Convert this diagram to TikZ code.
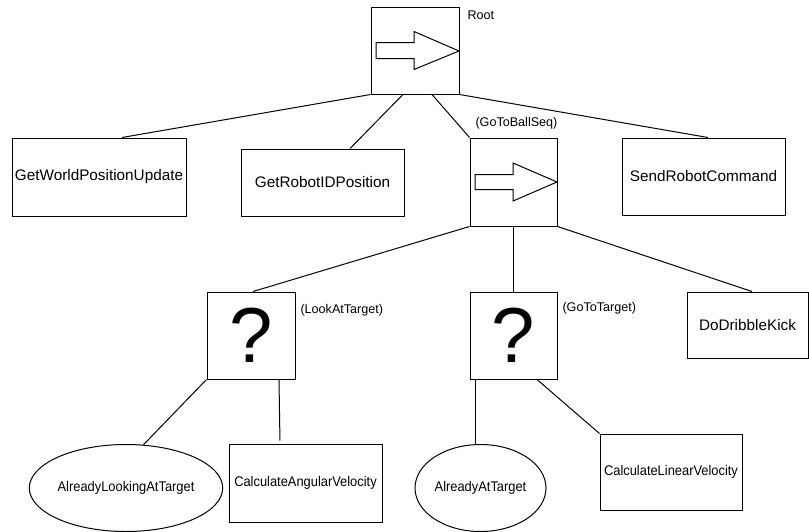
\documentclass[tikz,border=0pt]{standalone}
\usepackage{fontspec}
\setmainfont{Liberation Sans}
\newfontfamily\narrowfont[FakeStretch=0.92]{Liberation Sans}
\usetikzlibrary{shapes.geometric}
\begin{document}
\begin{tikzpicture}[x=1pt,y=-1pt,
  every path/.style={line width=1pt},
  box/.style={draw, rectangle, inner sep=0pt, align=center, font=\fontsize{15.3}{18}\selectfont},
  smallbox/.style={draw, rectangle, inner sep=0pt, align=center, font=\narrowfont\fontsize{14}{16}\selectfont},
  oval/.style={draw, ellipse, inner sep=0pt, font=\narrowfont\fontsize{14}{16}\selectfont},
  sel/.style={draw, rectangle, inner sep=0pt, minimum width=88pt, minimum height=87pt, font=\fontsize{78}{78}\selectfont},
  tag/.style={anchor=west, inner sep=0pt, font=\fontsize{12.6}{15}\selectfont},
  link/.style={draw, line width=1pt}
]
\useasboundingbox (0,0) rectangle (809,531);
% top
\node[box, minimum width=88pt, minimum height=87pt] (root) at (415,50.5) {};
\node[tag] (rootlbl) at (467,15) {Root};
% level 1
\node[box, minimum width=174pt, minimum height=78pt] (gwpu) at (99,177) {GetWorldPositionUpdate};
\node[box, minimum width=163pt, minimum height=67pt] (grip) at (322.5,182.5) {GetRobotIDPosition};
\node[box, minimum width=87pt, minimum height=88pt] (seq) at (513.5,182) {};
\node[tag] (seqlbl) at (475,123) {(GoToBallSeq)};
\node[box, minimum width=163pt, minimum height=77pt] (src) at (703.5,176.5) {SendRobotCommand};
% level 2
\node[sel] (lat) at (251,335.5) {?};
\node[tag] (latlbl) at (300,310) {(LookAtTarget)};
\node[sel, minimum width=87pt] (gtt) at (513.5,335.5) {?};
\node[tag] (gttlbl) at (562,308) {(GoToTarget)};
\node[box, minimum width=121pt, minimum height=66pt] (ddk) at (747.5,325) {DoDribbleKick};
% level 3
\node[oval, minimum width=164pt, minimum height=87pt] (alat) at (126,488) {AlreadyLookingAtTarget};
\node[smallbox, minimum width=153pt, minimum height=78pt] (cav) at (305.5,483) {CalculateAngularVelocity};
\node[oval, minimum width=131pt, minimum height=87pt] (aat) at (480.5,488) {AlreadyAtTarget};
\node[smallbox, minimum width=142pt, minimum height=76pt] (clv) at (671,472) {CalculateLinearVelocity};
% sequence arrows
\begin{scope}[shift={(root.center)}]
  \draw[fill=white] (-39,-8) -- (-1,-8) -- (-1,-19) -- (44,0.5) -- (-1,19) -- (-1,8) -- (-39,8) -- cycle;
\end{scope}
\begin{scope}[shift={(seq.center)}]
  \draw[fill=white] (-38.5,-7.5) -- (-0.5,-7.5) -- (-0.5,-19) -- (43.5,0) -- (-0.5,19) -- (-0.5,7.5) -- (-38.5,7.5) -- cycle;
\end{scope}
% connectors
\draw[link] (root.south west) -- ([xshift=23pt]gwpu.north);
\draw[link] ([xshift=-12pt]root.south) -- ([xshift=27.5pt]grip.north);
\draw[link] ([xshift=17pt]root.south) -- (seq.north west);
\draw[link] (root.south east) -- ([xshift=4.5pt]src.north);
\draw[link] (seq.south west) -- ([xshift=2pt]lat.north);
\draw[link] (seq.south) -- (gtt.north);
\draw[link] (seq.south east) -- ([xshift=4.5pt]ddk.north);
\draw[link] (lat.south west) -- (alat.68);
\draw[link, shorten >=3pt] ([xshift=28pt]lat.south) -- ([xshift=-25.5pt]cav.north);
\draw[link] ([xshift=-38.5pt]gtt.south) -- ([xshift=-5.5pt]aat.north);
\draw[link] ([xshift=23.5pt]gtt.south) -- (clv.north west);
\end{tikzpicture}
\end{document}
